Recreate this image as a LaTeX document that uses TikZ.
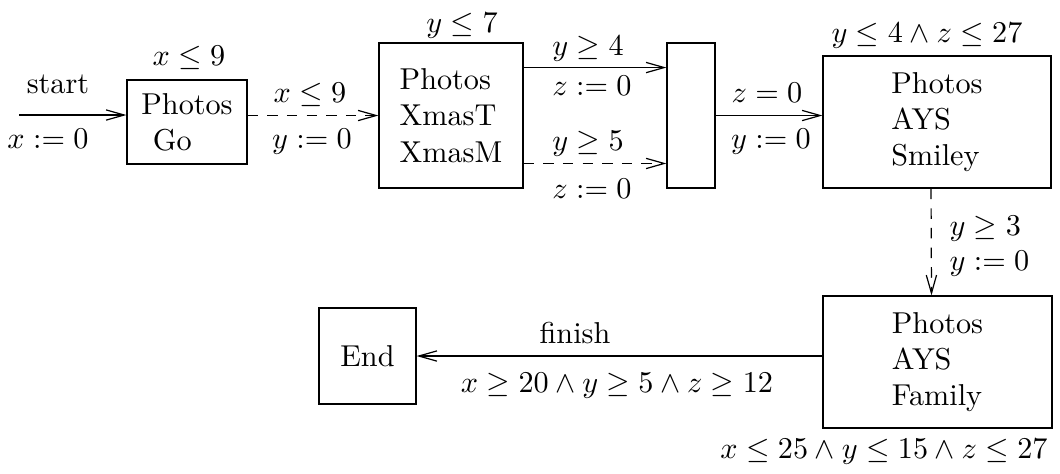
\documentclass[tikz,border=0pt]{standalone}
\usetikzlibrary{arrows.meta,calc}
\begin{document}
\begin{tikzpicture}[x=0.331pt,y=-0.331pt,
  box/.style={draw,line width=0.4pt,inner sep=0pt,align=left,anchor=center},
  lbl/.style={anchor=base,inner sep=0pt},
  lbll/.style={anchor=base west,inner sep=0pt},
  conn/.style={line width=0.4pt,-{Straight Barb[length=6pt,width=3.4pt,line width=0.4pt]}},
  dconn/.style={conn,dash pattern=on 3.5pt off 3pt}]
\useasboundingbox (0,0) rectangle (1060,473);
% boxes
\node[box,minimum width={120*0.331pt},minimum height={84*0.331pt}] (g) at (187,122) {Photos\\\hspace*{3.8pt}Go};
\node[box,minimum width={144*0.331pt},minimum height={145*0.331pt}] (b2) at (451,115.5) {Photos\\XmasT\\XmasM};
\node[box,minimum width={48*0.331pt},minimum height={145*0.331pt}] (b3) at (691,115.5) {};
\node[box,minimum width={228*0.331pt},minimum height={132*0.331pt}] (b4) at (937,122) {Photos\\AYS\\Smiley};
\node[box,minimum width={229*0.331pt},minimum height={132*0.331pt}] (b5) at (937.5,362) {Photos\\AYS\\Family};
\node[box,minimum width={97*0.331pt},minimum height={96*0.331pt}] (e) at (367.5,356) {End};
% invariants
\node[lbl] (ig) at (189,65) {$x\leq 9$};
\node[lbl] (i2) at (462,32) {$y\leq 7$};
\node[lbl] (i4) at (927,42) {$y\leq 4\wedge z\leq 27$};
\node[lbl] (i5) at (884,458) {$x\leq 25\wedge y\leq 15\wedge z\leq 27$};
% connectors
\coordinate (st) at (19,115);
\draw[conn] (st) -- (st -| g.west);
\draw[dconn] (b2.west -| g.east) -- (b2.west);
\coordinate (a1) at ($(b2.north east)!0.172!(b2.south east)$);
\coordinate (a2) at ($(b2.north east)!0.828!(b2.south east)$);
\draw[conn] (a1) -- (a1 -| b3.west);
\draw[dconn] (a2) -- (a2 -| b3.west);
\draw[conn] (b3.east) -- (b3.east -| b4.west);
\draw[dconn] ($(b4.south)+(-6,0)$) -- ($(b5.north)+(-6,0)$);
\draw[conn] (e.east -| b5.west) -- (e.east);
% edge labels
\node[lbl] (l1) at (58,93) {start};
\node[lbl] (l2) at (48,148) {$x := 0$};
\node[lbl] (l3) at (310,102) {$x\leq 9$};
\node[lbl] (l4) at (312,148) {$y := 0$};
\node[lbl] (l5) at (588,55) {$y\geq 4$};
\node[lbl] (l6) at (592,95) {$z := 0$};
\node[lbl] (l7) at (588,150) {$y\geq 5$};
\node[lbl] (l8) at (592,198) {$z := 0$};
\node[lbl] (l9) at (767,102) {$z = 0$};
\node[lbl] (l10) at (771,148) {$y := 0$};
\node[lbll] (l11) at (949,235) {$y\geq 3$};
\node[lbll] (l12) at (949,270) {$y := 0$};
\node[lbl] (l13) at (575,343) {finish};
\node[lbl] (l14) at (617,392) {$x\geq 20\wedge y\geq 5\wedge z\geq 12$};
\end{tikzpicture}
\end{document}
